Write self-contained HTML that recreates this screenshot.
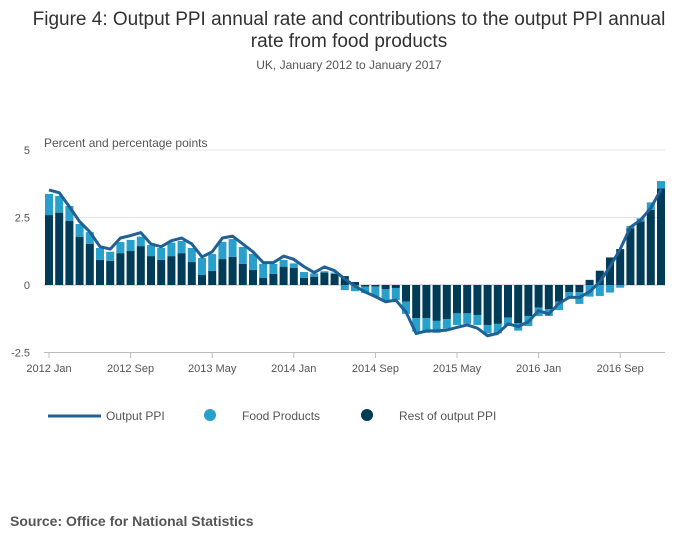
<!DOCTYPE html>
<html><head><meta charset="utf-8"><style>
body{margin:0;width:700px;height:549px;background:#fff;font-family:"Liberation Sans",sans-serif;overflow:hidden}
</style></head><body>
<svg width="700" height="549" id="c">
<text x="349" y="25" text-anchor="middle" font-size="19" fill="#323132">Figure 4: Output PPI annual rate and contributions to the output PPI annual</text>
<text x="349" y="47" text-anchor="middle" font-size="19" fill="#323132">rate from food products</text>
<text x="349" y="69" text-anchor="middle" font-size="12" fill="#555">UK, January 2012 to January 2017</text>
<text x="44" y="147" font-size="12" fill="#555">Percent and percentage points</text>
<g id="grid"></g><g id="bars"></g><g id="line"></g><g id="axis"></g>
<g>
<line x1="48" y1="416" x2="101" y2="416" stroke="#206095" stroke-width="3"/>
<text x="106" y="420" font-size="12" fill="#555">Output PPI</text>
<circle cx="210" cy="415" r="6" fill="#27a0cc"/>
<text x="242" y="420" font-size="12" fill="#555">Food Products</text>
<circle cx="367" cy="415" r="6" fill="#003c57"/>
<text x="399" y="420" font-size="12" fill="#555">Rest of output PPI</text>
</g>
<text x="10" y="526" font-size="14" font-weight="bold" fill="#555">Source: Office for National Statistics</text>
</svg>
<script>
const rest=[2.59,2.68,2.37,1.79,1.52,0.93,0.89,1.18,1.26,1.44,1.07,0.93,1.07,1.18,0.85,0.37,0.52,0.96,1.04,0.78,0.56,0.26,0.41,0.68,0.63,0.26,0.31,0.46,0.41,0.33,0.11,-0.06,-0.06,-0.16,-0.11,-0.62,-1.23,-1.23,-1.33,-1.26,-1.05,-1.05,-1.11,-1.48,-1.44,-1.21,-1.42,-1.15,-0.84,-0.90,-0.62,-0.27,-0.27,0.19,0.53,1.02,1.33,2.1,2.35,2.78,3.58];
const food=[0.78,0.62,0.56,0.47,0.44,0.44,0.34,0.41,0.41,0.35,0.41,0.44,0.50,0.45,0.52,0.63,0.63,0.64,0.66,0.63,0.59,0.52,0.37,0.25,0.17,0.22,0.12,0.05,0.05,-0.19,-0.23,-0.24,-0.37,-0.46,-0.45,-0.45,-0.5,-0.54,-0.44,-0.36,-0.43,-0.39,-0.37,-0.31,-0.35,-0.31,-0.27,-0.37,-0.31,-0.25,-0.31,-0.2,-0.43,-0.43,-0.41,-0.28,-0.1,0.09,0.12,0.28,0.27];
const ppi=[3.52,3.42,2.9,2.35,1.97,1.42,1.33,1.74,1.83,1.94,1.52,1.42,1.64,1.74,1.52,1.04,1.23,1.74,1.81,1.52,1.23,0.83,0.83,1.07,0.95,0.68,0.46,0.67,0.53,0.22,-0.04,-0.26,-0.43,-0.62,-0.56,-1.0,-1.8,-1.7,-1.7,-1.67,-1.57,-1.48,-1.6,-1.88,-1.79,-1.44,-1.54,-1.36,-0.95,-1.07,-0.68,-0.46,-0.46,-0.25,0.12,0.68,1.33,2.14,2.41,2.85,3.54];
const yTicks=[5,2.5,0,-2.5];
const xLabels=["2012 Jan","2012 Sep","2013 May","2014 Jan","2014 Sep","2015 May","2016 Jan","2016 Sep"];
const xLabelIdx=[0,8,16,24,32,40,48,56];
const NS="http://www.w3.org/2000/svg";
const x=i=>49+i*10.2;
const y=v=>285-v*27;
function mk(tag,attrs,parent){const e=document.createElementNS(NS,tag);for(const k in attrs)e.setAttribute(k,attrs[k]);document.getElementById(parent).appendChild(e);return e;}
yTicks.forEach(t=>{
  const l=mk('line',{x1:44,x2:665,y1:y(t),y2:y(t),stroke:t===0?'#bbb':'#e4e4e4','stroke-width':1},'grid');
  
  
  const tx=mk('text',{x:30,y:y(t)+4,'font-size':11,fill:'#555','text-anchor':'end'},'grid');
  tx.textContent=t;
  
  
});
const al=mk('line',{x1:44,x2:665,y1:352.5,y2:352.5,stroke:'#bbb'},'axis');


xLabelIdx.forEach((idx,k)=>{
  const tk=mk('line',{x1:x(idx),x2:x(idx),y1:352.5,y2:358,stroke:'#bbb'},'axis');
  
  
  const t=mk('text',{x:x(idx),y:372,'font-size':11,fill:'#555','text-anchor':'middle'},'axis');
  t.textContent=xLabels[k];
  
  
});
rest.forEach((r,i)=>{
  const f=food[i];let pos=0,neg=0;
  [[r,'#003c57','bar-rest'],[f,'#27a0cc','bar-food']].forEach(([v,c,n])=>{
    let y0,y1;
    if(v>=0){y0=pos;y1=pos+v;pos=y1;}else{y0=neg;y1=neg+v;neg=y1;}
    const top=y(Math.max(y0,y1)),h=Math.abs(y(y0)-y(y1));
    const b=mk('rect',{x:x(i)-4,y:top,width:8,height:h,fill:c},'bars');
    
    
  });
});
const p=mk('polyline',{points:ppi.map((v,i)=>x(i)+','+y(v)).join(' '),fill:'none',stroke:'#206095','stroke-width':3,'stroke-linejoin':'round'},'line');


</script>
</body></html>
